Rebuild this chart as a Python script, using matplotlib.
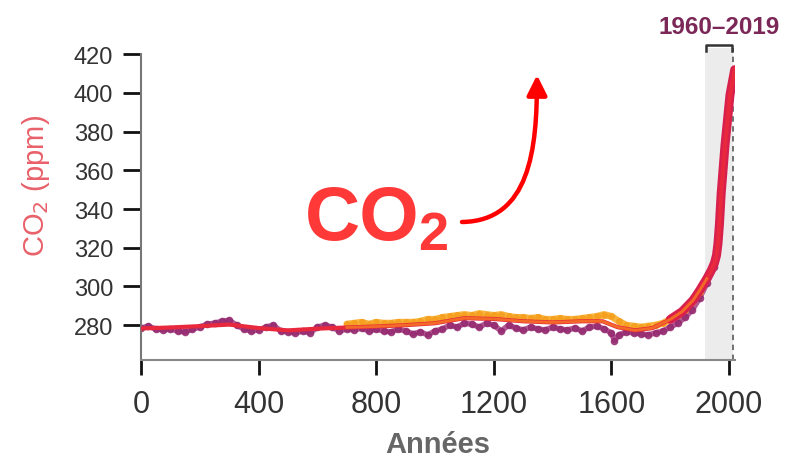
"""CO2 concentration over the last 2000 years (ice cores + direct measurements)"""
import numpy as np
import matplotlib
matplotlib.use("Agg")
from matplotlib import pyplot as plt
from matplotlib.patches import FancyArrowPatch
from matplotlib.path import Path

# smoothed curve
fit_years = [0, 100, 200, 300, 400, 500, 600, 700, 800, 900, 1000, 1100, 1200,
             1300, 1400, 1500, 1570, 1620, 1680, 1740, 1800, 1840, 1878, 1900,
             1924, 1940, 1950, 1957, 1962, 1967, 1973, 1986, 2003, 2019]
fit_co2 = [278.3, 278.8, 279.5, 280.3, 278.5, 277.3, 278.2, 278.8, 279.3,
           280.0, 281.0, 283.6, 283.2, 282.0, 281.4, 282.0, 282.0, 279.0,
           277.3, 278.5, 283.0, 287.0, 293.0, 298.0, 304.0, 308.5, 312.0,
           316.0, 322.0, 332.0, 348.0, 373.0, 399.0, 412.0]

# ice core points (purple)
core_years = [0, 25, 50, 75, 100, 125, 150, 175, 200, 225, 250, 275, 300, 325,
              350, 375, 400, 425, 450, 475, 500, 525, 550, 575, 600, 625, 650,
              675, 700, 725, 750, 775, 800, 825, 850, 875, 900, 925, 950, 975,
              1000, 1025, 1050, 1075, 1100, 1125, 1150, 1175, 1200, 1225, 1250,
              1275, 1300, 1325, 1350, 1375, 1400, 1425, 1450, 1475, 1500, 1525,
              1550, 1575, 1600, 1610, 1625, 1650, 1675, 1700, 1725, 1750, 1775,
              1800, 1825, 1850, 1875, 1900, 1925, 1950]
core_co2 = [278.5, 279.5, 278, 277.5, 278, 277, 276.5, 278, 279, 280.5, 281,
            282, 282.5, 280, 278, 277, 277.5, 279, 280, 277, 276.5, 276, 277,
            276, 279, 280, 279, 277, 278, 277.5, 278.5, 277, 278, 277, 276.5,
            278, 277, 275.5, 276.5, 275, 277, 278, 280, 279, 281, 280.5, 279,
            281, 280, 277, 280, 278.5, 277.5, 279, 278, 277.5, 279, 278, 277.5,
            278.5, 277, 279, 279.5, 278, 276, 272, 275, 276.5, 276, 275.5, 275,
            276, 277, 279, 281, 284, 288, 294, 302, 310]

# second record (orange)
alt_years = [700, 725, 750, 775, 800, 825, 850, 875, 900, 925, 950, 975, 1000,
             1025, 1050, 1075, 1100, 1125, 1150, 1175, 1200, 1225, 1250, 1275,
             1300, 1325, 1350, 1375, 1400, 1425, 1450, 1475, 1500, 1525, 1550,
             1575, 1600, 1625, 1650, 1675, 1700, 1725, 1750, 1775, 1800, 1825,
             1850, 1875, 1900, 1925]
alt_co2 = [280.5, 281, 281.5, 280.5, 281.5, 281, 281, 281.5, 281.5, 281.5,
           282, 283, 283, 284, 284.5, 285, 285.5, 285, 286, 285.5, 285, 285.5,
           284.5, 284, 284, 283.5, 284, 283, 283, 283.5, 283, 283, 283.5, 284,
           284.5, 285.5, 284.5, 282, 280, 279.5, 279, 279.5, 280, 281, 283,
           285, 288, 292, 297, 304]

x_ticks = [0, 400, 800, 1200, 1600, 2000]
y_ticks = [280, 300, 320, 340, 360, 380, 400, 420]

SANS = ["Liberation Sans", "DejaVu Sans"]


def main():
    fig = plt.figure(figsize=(7.87, 4.60), dpi=100)
    ax = fig.add_axes([141 / 787, 99 / 460, 594 / 787, 312 / 460])
    ax.set_xlim(0, 2020)
    ax.set_ylim(262, 423.2)

    # recent period
    ax.axvspan(1918, 2013, color="#ececec", lw=0, zorder=0)
    ax.plot([2013, 2013], [262, 423.2], ls=(0, (3, 2.5)), color="#666666",
            lw=1.3, zorder=1)
    ax.plot([1922, 1922, 2009, 2009], [421.5, 425, 425, 421.5],
            color="#333333", lw=1.8, clip_on=False)
    ax.text(1965, 428.5, "1960\u20132019", ha="center", va="bottom",
            fontsize=17.5, fontweight="bold", color="#7b2757", family=SANS)

    fy = np.array(fit_years)
    fc = np.array(fit_co2)

    ax.plot(core_years, core_co2, color="#a0307a", lw=4, alpha=0.8, zorder=2,
            solid_capstyle="round")
    ax.plot(core_years, core_co2, "o", color="#93286e", ms=4.5, alpha=0.8,
            zorder=2)
    ax.plot(alt_years, alt_co2, color="#f7ad2a", lw=5, alpha=0.9, zorder=3,
            solid_capstyle="round")
    ax.plot(alt_years, alt_co2, "o", color="#f5a020", ms=4, zorder=3)

    rise = fy >= 1800
    ax.plot(fy[rise], fc[rise], color="#d8204e", lw=6.5, zorder=4,
            solid_capstyle="round")
    ax.plot(fy, fc, color="#e8283c", lw=3, zorder=5)
    mid = (fy >= 700) & (fy <= 1930)
    ax.plot(fy[mid], fc[mid], color="#f36a28", lw=2, zorder=6)

    # axes styling
    for side in ("top", "right"):
        ax.spines[side].set_visible(False)
    ax.spines["left"].set_bounds(262, 420)
    ax.spines["left"].set_color("#777777")
    ax.spines["bottom"].set_color("#888888")
    ax.spines["left"].set_linewidth(1.5)
    ax.spines["bottom"].set_linewidth(1.5)
    ax.set_xticks(x_ticks)
    ax.set_yticks(y_ticks)
    ax.tick_params(axis="both", colors="#111111", width=2)
    ax.tick_params(axis="y", labelsize=17, labelcolor="#333333", pad=7,
                   length=13)
    ax.tick_params(axis="x", labelsize=22, labelcolor="#333333", pad=10,
                   length=11)
    for lab in ax.get_xticklabels() + ax.get_yticklabels():
        lab.set_family(SANS)

    ax.set_xlabel("Ann\u00e9es", fontsize=21, fontweight="bold",
                  color="#666666", family=SANS)
    ax.xaxis.set_label_coords(0.5, -0.225)
    ax.xaxis.label.set_va("top")
    ax.set_ylabel("CO$_2$ (ppm)", fontsize=21, color="#e8606a", family=SANS)
    ax.yaxis.set_label_coords(-0.15, 0.56)

    # big annotation
    fig.text(305 / 787, 1 - 240 / 460, "CO", fontsize=55, fontweight="bold",
             color="#ff3838", family=SANS, ha="left", va="baseline")
    fig.text(418 / 787, 1 - 250 / 460, "2", fontsize=39, fontweight="bold",
             color="#ff3838", family=SANS, ha="left", va="baseline")

    verts = [(462 / 787, 1 - 223 / 460), (530 / 787, 1 - 222 / 460),
             (537 / 787, 1 - 150 / 460), (537 / 787, 1 - 76 / 460)]
    path = Path(verts, [Path.MOVETO, Path.CURVE4, Path.CURVE4, Path.CURVE4])
    arrow = FancyArrowPatch(path=path, transform=fig.transFigure,
                            arrowstyle="-|>,head_length=12,head_width=6",
                            color="#ff0000", lw=3.2, mutation_scale=1)
    fig.patches.append(arrow)

    fig.savefig("out.png", dpi=100)


if __name__ == '__main__':
    main()
